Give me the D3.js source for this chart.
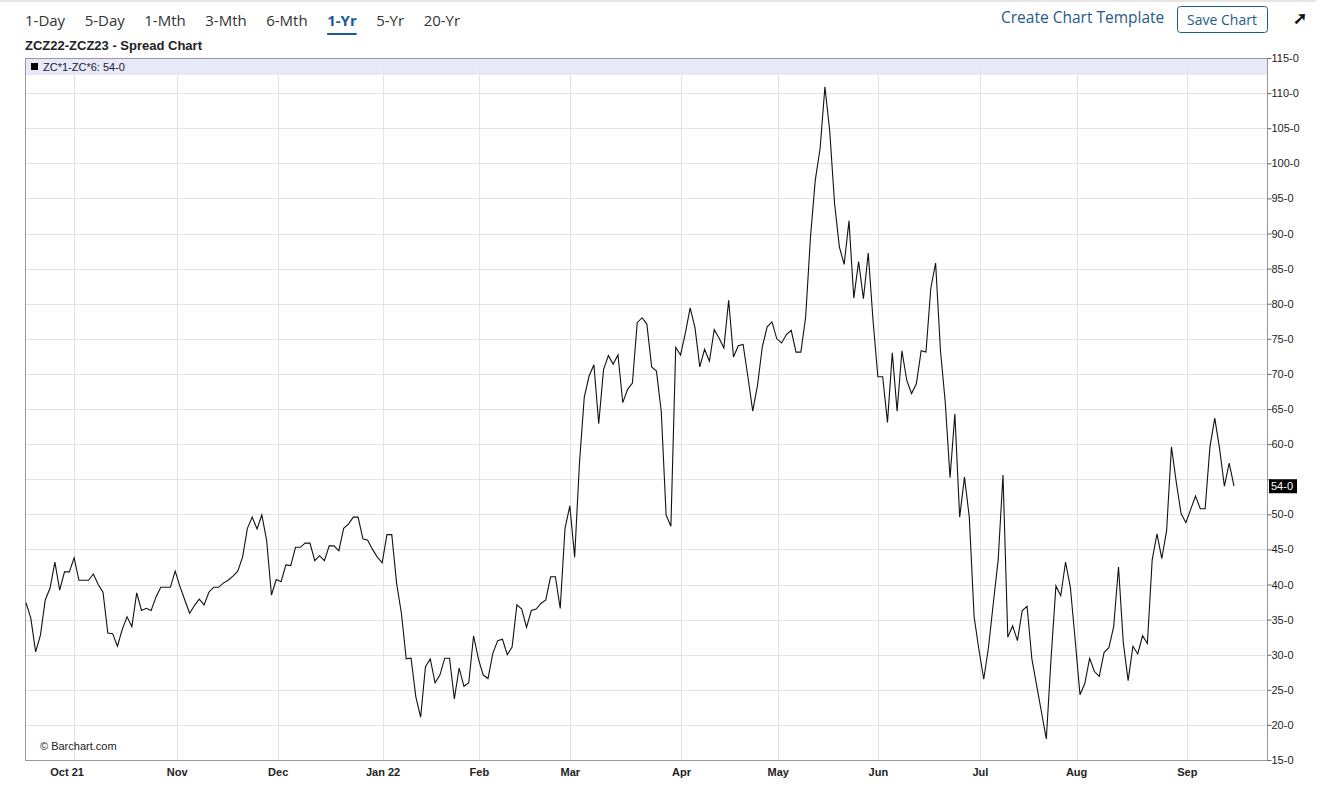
<!DOCTYPE html>
<html><head><meta charset="utf-8">
<script src="https://cdn.jsdelivr.net/npm/d3@7"></script>
<style>body{margin:0;background:#fff;font-family:"Open Sans",Arial,sans-serif}</style>
</head><body><svg id="c" width="1330" height="787"></svg>
<script>
const spreadValues = [
37.4,35.2,30.4,32.8,37.8,39.5,43.2,39.2,41.8,41.8,43.8,40.6,40.6,40.6,41.5,40.0,38.9,33.1,33.0,31.2,33.6,35.4,34.0,38.8,36.3,36.6,36.3,38.2,39.6,39.6,39.6,41.9,
39.7,37.8,35.9,37.0,37.9,37.1,38.9,39.6,39.6,40.2,40.6,41.2,41.9,43.9,48.0,49.6,47.9,49.9,46.3,38.5,40.7,40.4,
42.8,42.7,45.3,45.3,45.9,45.9,43.4,44.1,43.4,45.5,45.5,44.8,48.0,48.6,49.6,49.6,46.5,46.3,45.0,43.9,43.1,
47.1,47.1,40.2,35.9,29.4,29.5,24.0,21.1,28.3,29.4,26.0,27.1,29.5,29.5,23.7,28.1,25.5,26.0,32.7,29.4,
27.1,26.6,30.2,32.0,32.2,30.0,31.1,37.1,36.5,33.9,36.3,36.5,37.3,37.8,41.1,41.1,36.6,48.0,51.2,43.9,
57.3,66.7,69.7,71.3,62.9,70.6,72.6,71.4,72.7,65.9,67.8,68.7,77.3,78.0,77.1,71.0,70.4,64.6,49.9,48.3,73.8,72.7,75.8,
79.4,76.6,71.0,73.5,71.8,76.3,75.1,73.7,80.5,72.4,74.0,74.2,69.6,64.7,68.4,73.9,76.7,77.4,75.0,74.4,75.6,
76.2,73.1,73.1,78.1,89.5,97.6,102.1,110.9,104.6,94.3,88.1,85.6,91.8,80.8,86.0,80.7,87.2,77.6,69.6,69.6,
63.1,73.0,64.7,73.3,69.1,67.2,68.6,73.3,73.1,82.2,85.8,73.4,66.0,55.2,64.3,49.6,55.3,49.6,35.4,30.7,
26.5,31.1,37.4,43.5,55.6,32.5,34.1,32.0,36.3,36.9,29.4,25.6,21.8,18.0,29.6,39.8,38.4,43.2,39.6,32.1,
24.3,25.9,29.5,27.6,26.9,30.3,31.0,34.0,42.5,31.7,26.3,31.2,30.1,32.7,31.6,43.5,47.2,43.7,47.7,59.6,
54.6,50.1,48.8,50.7,52.6,50.8,50.8,59.6,63.7,59.4,54.0,57.3,54.0];
const monthLabels = ["Oct 21","Nov","Dec","Jan 22","Feb","Mar","Apr","May","Jun","Jul","Aug","Sep"];
const monthIndex = [10,31.4,52.4,74.2,94.2,113.1,136.2,156.3,177.1,198.3,218.3,241.3];
const yTicks = [15,20,25,30,35,40,45,50,55,60,65,70,75,80,85,90,95,100,105,110,115];
const periods = ["1-Day","5-Day","1-Mth","3-Mth","6-Mth","1-Yr","5-Yr","20-Yr"];
const lastLabel = "54-0";

const svg = d3.select("#c");
const L=25,R=1267,T=58,B=760;
const x = d3.scaleLinear().domain([0,spreadValues.length-1]).range([26,1234]);
const y = d3.scaleLinear().domain([15,115]).range([B,T]);

svg.append("line").attr("x1",0).attr("x2",1316).attr("y1",1).attr("y2",1).attr("stroke","#ccc");
let px=25;
const pg=svg.append("g");
periods.forEach(p=>{
  const t=pg.append("text").attr("x",px).attr("y",26).attr("font-size",15).attr("fill",p==="1-Yr"?"#1a5a96":"#333")
   .attr("font-weight",p==="1-Yr"?"bold":"normal").text(p);
  const w=t.node().getComputedTextLength();
  if(p==="1-Yr") pg.append("rect").attr("x",px).attr("y",33).attr("width",w).attr("height",2).attr("fill","#1a5a96");
  px+=w+19.5;
});
svg.append("text").attr("x",25).attr("y",50).attr("font-family","Arial, sans-serif").attr("font-weight","bold").attr("font-size",13).attr("fill","#222").text("ZCZ22-ZCZ23 - Spread Chart");
svg.append("text").attr("x",1001).attr("y",23).attr("font-size",15.5).attr("fill","#1f5a8a").text("Create Chart Template");
svg.append("rect").attr("x",1177.5).attr("y",6.5).attr("width",90).attr("height",26).attr("rx",3).attr("fill","#fff").attr("stroke","#1f5a8a");
svg.append("text").attr("x",1222).attr("y",25).attr("text-anchor","middle").attr("font-size",14).attr("fill","#1f5a8a").text("Save Chart");
svg.append("text").attr("x",1300).attr("y",24).attr("text-anchor","middle").attr("font-size",17).attr("font-weight","bold").attr("fill","#111").text("➚");

const g=svg.append("g");
g.selectAll(".hg").data(yTicks).join("line").attr("x1",L).attr("x2",R).attr("y1",d=>Math.round(y(d))+.5).attr("y2",d=>Math.round(y(d))+.5).attr("stroke","#e3e3e3");
g.selectAll(".vg").data(monthIndex).join("line").attr("x1",d=>Math.round(x(d))+.5).attr("x2",d=>Math.round(x(d))+.5).attr("y1",T).attr("y2",B).attr("stroke","#e3e3e3");
svg.append("rect").attr("x",L).attr("y",T).attr("width",R-L).attr("height",17).attr("fill","#e6e6fb").attr("opacity",0.9);
svg.append("rect").attr("x",31).attr("y",63).attr("width",7).attr("height",7).attr("fill","#000");
svg.append("text").attr("x",43).attr("y",71).attr("font-family","Arial, sans-serif").attr("font-size",11).attr("fill","#222").text("ZC*1-ZC*6: 54-0");
svg.append("rect").attr("x",L+.5).attr("y",T+.5).attr("width",R-L).attr("height",B-T).attr("fill","none").attr("stroke","#999");

const lv=spreadValues[spreadValues.length-1];
const ya=svg.append("g").attr("transform",`translate(${R+.5},0)`).call(d3.axisRight(y).tickValues(yTicks).tickSize(4).tickFormat(d=>d+"-0"));
ya.select(".domain").remove();
ya.selectAll("line").attr("stroke","#666");
ya.selectAll("text").attr("font-family","Arial, sans-serif").attr("font-size",11).attr("fill","#222").attr("x",4)
  .style("display",d=>Math.abs(y(d)-y(lv))<12?"none":null);
svg.append("g").selectAll("text").data(monthIndex).join("text").attr("x",(d,i)=>x(d)-(i===0?7:0)).attr("y",776).attr("text-anchor","middle")
 .attr("font-family","Arial, sans-serif").attr("font-weight","bold").attr("font-size",11).attr("fill","#222").text((d,i)=>monthLabels[i]);

svg.append("path").datum(spreadValues).attr("fill","none").attr("stroke","#111").attr("stroke-width",1.1)
 .attr("d",d3.line().x((d,i)=>x(i)).y(d=>y(d)));

svg.append("rect").attr("x",R+2).attr("y",y(lv)-7).attr("width",28).attr("height",14).attr("fill","#000");
svg.append("text").attr("x",R+4).attr("y",y(lv)+4).attr("font-family","Arial, sans-serif").attr("font-size",11).attr("fill","#fff").text(lastLabel);
svg.append("text").attr("x",40).attr("y",750).attr("font-family","Arial, sans-serif").attr("font-size",11).attr("fill","#222").text("© Barchart.com");
</script></body></html>
